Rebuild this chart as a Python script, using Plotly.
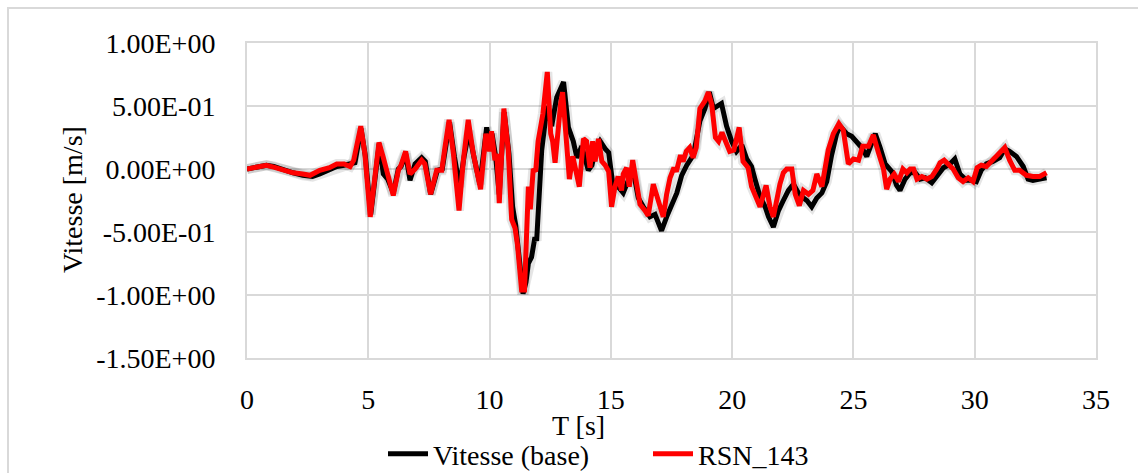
import plotly.graph_objects as go

# Time (s) and velocity (m/s) for the base record
t_base = [0.0, 0.4, 0.8, 1.1, 1.5, 1.9, 2.3, 2.7, 3.0, 3.4, 3.7, 4.0, 4.3, 4.45, 4.7, 4.88,
          5.1, 5.28, 5.45, 5.62, 5.8, 6.03, 6.24, 6.35, 6.54, 6.72, 6.93, 7.2, 7.35, 7.57,
          7.85, 8.05, 8.18, 8.35, 8.55, 8.76, 8.95, 9.15, 9.35, 9.6, 9.88, 10.0, 10.1, 10.25,
          10.4, 10.6, 10.8, 10.95, 11.08, 11.2, 11.38, 11.5, 11.6, 11.73, 11.87, 11.94, 12.0,
          12.15, 12.37, 12.56, 12.77, 13.05, 13.25, 13.45, 13.6, 13.8, 14.07, 14.22, 14.35,
          14.56, 14.77, 14.91, 15.1, 15.3, 15.51, 15.72, 15.93, 16.13, 16.34, 16.61, 16.82,
          17.09, 17.3, 17.51, 17.72, 17.92, 18.13, 18.4, 18.67, 18.88, 19.06, 19.23, 19.44,
          19.56, 19.77, 19.98, 20.18, 20.4, 20.6, 20.8, 20.94, 21.15, 21.36, 21.5, 21.7,
          21.91, 22.11, 22.32, 22.53, 22.73, 22.94, 23.08, 23.28, 23.49, 23.7, 23.9, 24.1,
          24.31, 24.45, 24.72, 24.93, 25.14, 25.34, 25.55, 25.76, 25.9, 26.1, 26.31, 26.58,
          26.78, 26.92, 27.13, 27.34, 27.55, 27.75, 27.96, 28.23, 28.51, 28.71, 28.98, 29.18,
          29.39, 29.66, 29.93, 30.07, 30.27, 30.48, 30.75, 31.03, 31.24, 31.44, 31.72, 32.0,
          32.2, 32.4, 32.68, 32.96]
v_base = [0.0, 0.02, 0.03, 0.02, -0.01, -0.03, -0.05, -0.06, -0.04, 0.0, 0.02, 0.03, 0.04,
          0.05, 0.32, 0.1, -0.36, -0.08, 0.2, -0.04, -0.08, -0.19, 0.0, 0.02, 0.12, -0.09,
          0.04, 0.09, 0.06, -0.2, -0.01, 0.0, 0.15, 0.37, 0.1, -0.14, 0.1, 0.3, 0.1, -0.12,
          0.33, 0.2, 0.28, 0.1, -0.2, 0.45, 0.12, -0.3, -0.45, -0.65, -0.99, -0.9, -0.75,
          -0.7, -0.54, -0.57, -0.3, 0.15, 0.5, 0.34, 0.57, 0.69, 0.33, 0.22, 0.09, 0.18,
          -0.01, 0.03, 0.14, 0.22, 0.16, 0.13, -0.15, -0.14, -0.19, -0.09, -0.02, -0.23,
          -0.3, -0.38, -0.36, -0.49, -0.38, -0.28, -0.19, -0.05, 0.03, 0.11, 0.38, 0.48,
          0.61, 0.48, 0.5, 0.52, 0.34, 0.22, 0.14, 0.19, 0.08, 0.02, -0.08, -0.22, -0.3,
          -0.38, -0.46, -0.33, -0.25, -0.17, -0.12, -0.19, -0.23, -0.25, -0.3, -0.23, -0.19,
          -0.1, 0.11, 0.28, 0.34, 0.28, 0.26, 0.22, 0.17, 0.1, 0.22, 0.28, 0.17, 0.04, -0.02,
          -0.13, -0.17, -0.08, -0.03, -0.03, -0.08, -0.07, -0.11, -0.04, 0.01, 0.04, 0.08,
          -0.04, -0.09, -0.09, -0.1, -0.01, 0.04, 0.06, 0.09, 0.16, 0.14, 0.1, 0.02, -0.08,
          -0.09, -0.08, -0.07]

# Time (s) and velocity (m/s) for record RSN_143
t_rsn = [0.0, 0.4, 0.8, 1.1, 1.5, 1.9, 2.3, 2.6, 3.0, 3.4, 3.7, 4.0, 4.25, 4.4, 4.69, 4.86,
         5.08, 5.28, 5.44, 5.62, 5.8, 6.03, 6.24, 6.35, 6.54, 6.72, 6.93, 7.2, 7.33, 7.57,
         7.82, 8.03, 8.16, 8.33, 8.51, 8.74, 8.92, 9.12, 9.33, 9.63, 9.85, 10.0, 10.08, 10.22,
         10.3, 10.4, 10.59, 10.77, 10.91, 11.05, 11.15, 11.32, 11.44, 11.52, 11.6, 11.68,
         11.8, 11.9, 12.0, 12.2, 12.38, 12.52, 12.6, 12.7, 12.8, 12.93, 13.01, 13.15, 13.29,
         13.43, 13.53, 13.7, 13.87, 14.0, 14.14, 14.25, 14.35, 14.49, 14.63, 14.77, 14.91,
         15.03, 15.17, 15.3, 15.44, 15.51, 15.65, 15.76, 15.9, 16.06, 16.2, 16.41, 16.54,
         16.75, 16.89, 17.03, 17.16, 17.3, 17.44, 17.6, 17.7, 17.87, 17.98, 18.11, 18.25,
         18.39, 18.52, 18.67, 18.88, 19.02, 19.16, 19.31, 19.44, 19.58, 19.72, 19.9, 20.07,
         20.29, 20.45, 20.66, 20.8, 20.94, 21.15, 21.4, 21.56, 21.7, 21.84, 21.97, 22.11,
         22.25, 22.46, 22.6, 22.77, 22.94, 23.15, 23.33, 23.49, 23.7, 23.96, 24.17, 24.4,
         24.58, 24.79, 25.0, 25.21, 25.38, 25.62, 25.82, 26.03, 26.24, 26.37, 26.51, 26.68,
         26.86, 27.04, 27.2, 27.34, 27.48, 27.62, 27.82, 28.03, 28.23, 28.44, 28.57, 28.74,
         28.91, 29.11, 29.32, 29.52, 29.73, 29.93, 30.1, 30.27, 30.48, 30.68, 30.89, 31.1,
         31.24, 31.44, 31.65, 31.85, 32.13, 32.4, 32.68, 32.96]
v_rsn = [0.0, 0.02, 0.03, 0.015, -0.01, -0.03, -0.04, -0.05, -0.01, 0.01, 0.04, 0.04, 0.02,
         0.07, 0.34, 0.12, -0.38, -0.09, 0.21, 0.09, -0.05, -0.21, -0.01, 0.03, 0.14, -0.04,
         0.0, 0.07, 0.04, -0.2, -0.01, -0.01, 0.17, 0.39, 0.12, -0.33, 0.07, 0.39, 0.12,
         -0.16, 0.28, 0.14, 0.3, 0.07, 0.12, -0.27, 0.48, 0.15, -0.4, -0.47, -0.6, -0.96,
         -0.96, -0.46, -0.14, -0.32, 0.0, -0.02, 0.22, 0.44, 0.77, 0.28, 0.22, 0.05, 0.31,
         0.52, 0.61, 0.31, -0.08, 0.1, 0.0, -0.14, 0.24, 0.22, 0.01, 0.22, 0.06, 0.24, 0.06,
         0.03, -0.02, -0.3, -0.14, -0.06, -0.17, -0.04, 0.01, -0.14, 0.07, -0.09, -0.28,
         -0.33, -0.37, -0.12, -0.22, -0.3, -0.38, -0.2, -0.07, 0.01, -0.02, 0.11, 0.06, 0.14,
         0.17, 0.09, 0.17, 0.48, 0.54, 0.61, 0.51, 0.25, 0.22, 0.29, 0.22, 0.14, 0.15, 0.33,
         0.06, 0.01, -0.14, -0.2, -0.3, -0.13, -0.3, -0.38, -0.22, -0.12, -0.03, 0.0, 0.0,
         -0.2, -0.29, -0.17, -0.2, -0.17, -0.04, -0.14, 0.15, 0.28, 0.36, 0.31, 0.04, 0.08,
         0.07, 0.18, 0.18, 0.27, 0.13, 0.0, -0.16, -0.08, -0.04, -0.1, 0.0, -0.03, 0.0, 0.0,
         -0.08, -0.06, -0.08, -0.06, 0.0, 0.05, 0.07, 0.04, 0.0, -0.07, -0.1, -0.07, -0.1,
         0.01, 0.03, 0.02, 0.06, 0.1, 0.14, 0.17, 0.07, -0.01, -0.01, -0.05, -0.06, -0.06,
         -0.03]

y_tickvals = [1.0, 0.5, 0.0, -0.5, -1.0, -1.5]
y_ticktext = ["1.00E+00", "5.00E-01", "0.00E+00", "-5.00E-01", "-1.00E+00", "-1.50E+00"]
x_tickvals = [0, 5, 10, 15, 20, 25, 30, 35]

FONT = "Liberation Serif, DejaVu Serif, serif"
FS = 28
GRID = "#d9d9d9"

W, H = 1138, 473
L, R, T, B = 247, 42, 43, 115
pw = W - L - R
ph = H - T - B


def px_to_paper_x(px):
    return (px - L) / pw


def px_to_paper_y(py):
    return 1 - (py - T) / ph


fig = go.Figure()
# soft drop shadow under each curve
for tt, vv in ((t_base, v_base), (t_rsn, v_rsn)):
    fig.add_trace(go.Scatter(x=tt, y=vv, mode="lines", showlegend=False, hoverinfo="skip",
                             line=dict(color="rgba(0,0,0,0.10)", width=10)))
fig.add_trace(go.Scatter(x=t_base, y=v_base, mode="lines", name="Vitesse (base)",
                         line=dict(color="#000000", width=5)))
fig.add_trace(go.Scatter(x=t_rsn, y=v_rsn, mode="lines", name="RSN_143",
                         line=dict(color="#ff0000", width=5)))

fig.update_layout(
    width=W, height=H,
    margin=dict(l=L, r=R, t=T, b=B, pad=0, autoexpand=False),
    paper_bgcolor="white", plot_bgcolor="white",
    font=dict(family=FONT, size=FS, color="#000000"),
    showlegend=True,
    legend=dict(orientation="h", x=px_to_paper_x(383), xanchor="left",
                y=px_to_paper_y(454), yanchor="middle",
                font=dict(family=FONT, size=FS), itemwidth=40,
                entrywidth=210, entrywidthmode="pixels",
                bgcolor="rgba(0,0,0,0)", tracegroupgap=0),
    xaxis=dict(range=[0, 35], tickvals=x_tickvals, showgrid=True, gridcolor=GRID,
               gridwidth=2, zeroline=False, showline=True, linecolor=GRID, linewidth=2,
               mirror=True, ticks="", ticklabelstandoff=15,
               tickfont=dict(family=FONT, size=FS)),
    yaxis=dict(range=[-1.5, 1.0], tickvals=y_tickvals, ticktext=y_ticktext, showgrid=True,
               gridcolor=GRID, gridwidth=2, zeroline=False, showline=True, linecolor=GRID,
               linewidth=2, mirror=True, ticks="", ticklabelstandoff=24,
               tickfont=dict(family=FONT, size=FS)),
    annotations=[
        dict(text="T [s]", xref="paper", yref="paper", x=px_to_paper_x(578),
             y=px_to_paper_y(426), xanchor="center", yanchor="middle", showarrow=False,
             font=dict(family=FONT, size=FS)),
        dict(text="Vitesse [m/s]", xref="paper", yref="paper", x=px_to_paper_x(72),
             y=px_to_paper_y(200), xanchor="center", yanchor="middle", textangle=-90,
             showarrow=False, font=dict(family=FONT, size=FS)),
    ],
    shapes=[
        dict(type="rect", xref="paper", yref="paper", x0=px_to_paper_x(8),
             y0=px_to_paper_y(H + 20), x1=px_to_paper_x(W + 20), y1=px_to_paper_y(8),
             line=dict(color=GRID, width=2), layer="below"),
    ],
)

fig.write_html("out.html")
